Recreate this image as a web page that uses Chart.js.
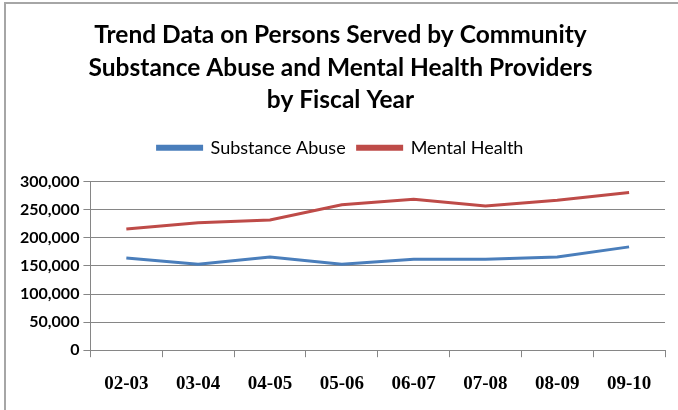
<!DOCTYPE html>
<html>
<head>
<meta charset="utf-8">
<script src="https://cdn.jsdelivr.net/npm/chart.js@4.4.0/dist/chart.umd.min.js"></script>
<style>
    html, body { margin: 0; padding: 0; background: #fff; overflow: hidden; }
    #frame {
        position: absolute; left: 4px; top: 2px;
        width: 700px; height: 430px;
        border: 2px solid #a6a6a6;
    }
    #wrap { position: absolute; left: 0; top: 0; width: 678px; height: 410px; }
</style>
</head>
<body>
<div id="frame"></div>
<div id="wrap"><canvas id="trendChart" width="678" height="410"></canvas></div>
<script>
// Fiscal years and persons served
const fiscalYears = ['02-03', '03-04', '04-05', '05-06', '06-07', '07-08', '08-09', '09-10'];
const substanceAbuse = [164000, 153000, 166000, 153000, 162000, 162000, 166000, 184000];
const mentalHealth = [216000, 227000, 232000, 259000, 269000, 257000, 267000, 281000];
const yTicks = [0, 50000, 100000, 150000, 200000, 250000, 300000];

const titleLines = [
    'Trend Data on Persons Served by Community',
    'Substance Abuse and Mental Health Providers',
    'by Fiscal Year'
];

let trendChart = null;

// extra room between the legend and the plot
const legendSpacing = {
    id: 'legendSpacing',
    beforeInit(chart) {
        const fit = chart.legend.fit;
        chart.legend.fit = function() {
            fit.bind(chart.legend)();
            this.height += 15;
        };
    }
};

function initializeTrendChart() {
    const ctx = document.getElementById('trendChart');
    if (!ctx) return;

    trendChart = new Chart(ctx, {
        type: 'line',
        data: {
            labels: fiscalYears,
            datasets: [
                {
                    label: 'Substance Abuse',
                    data: substanceAbuse,
                    borderColor: '#4a7ebb',
                    backgroundColor: '#4a7ebb',
                    borderWidth: 3,
                    pointRadius: 0,
                    tension: 0
                },
                {
                    label: 'Mental Health',
                    data: mentalHealth,
                    borderColor: '#be4b48',
                    backgroundColor: '#be4b48',
                    borderWidth: 3,
                    pointRadius: 0,
                    tension: 0
                }
            ]
        },
        plugins: [legendSpacing],
        options: {
            responsive: false,
            animation: false,
            layout: {
                padding: { left: 16, right: 13, top: 19, bottom: 0 }
            },
            plugins: {
                title: {
                    display: true,
                    text: titleLines,
                    color: '#000',
                    font: { size: 24.5, weight: 'bold', family: 'Lato', lineHeight: 1.33 },
                    padding: { top: 0, bottom: 10 }
                },
                legend: {
                    display: true,
                    position: 'top',
                    labels: {
                        color: '#000',
                        boxWidth: 44,
                        boxHeight: 3,
                        padding: 12,
                        font: { size: 18, family: 'Lato' }
                    }
                },
                tooltip: { enabled: false }
            },
            scales: {
                x: {
                    offset: true,
                    grid: {
                        offset: true,
                        drawOnChartArea: false,
                        drawTicks: true,
                        tickLength: 7,
                        color: '#868686'
                    },
                    border: { color: '#868686', width: 1 },
                    ticks: {
                        color: '#000',
                        padding: 15,
                        maxRotation: 0,
                        font: { size: 19, weight: 'bold', family: 'Liberation Serif' }
                    }
                },
                y: {
                    min: 0,
                    max: 300000,
                    afterBuildTicks: function(axis) {
                        axis.ticks = yTicks.map(v => ({ value: v }));
                    },
                    grid: {
                        color: '#868686',
                        tickLength: 7
                    },
                    border: { color: '#868686', width: 1 },
                    ticks: {
                        color: '#000',
                        padding: 4,
                        font: { size: 16, weight: 'bold', family: 'Lato' },
                        callback: function(value) {
                            return value.toLocaleString('en-US');
                        }
                    }
                }
            }
        }
    });
}

initializeTrendChart();
</script>
</body>
</html>
